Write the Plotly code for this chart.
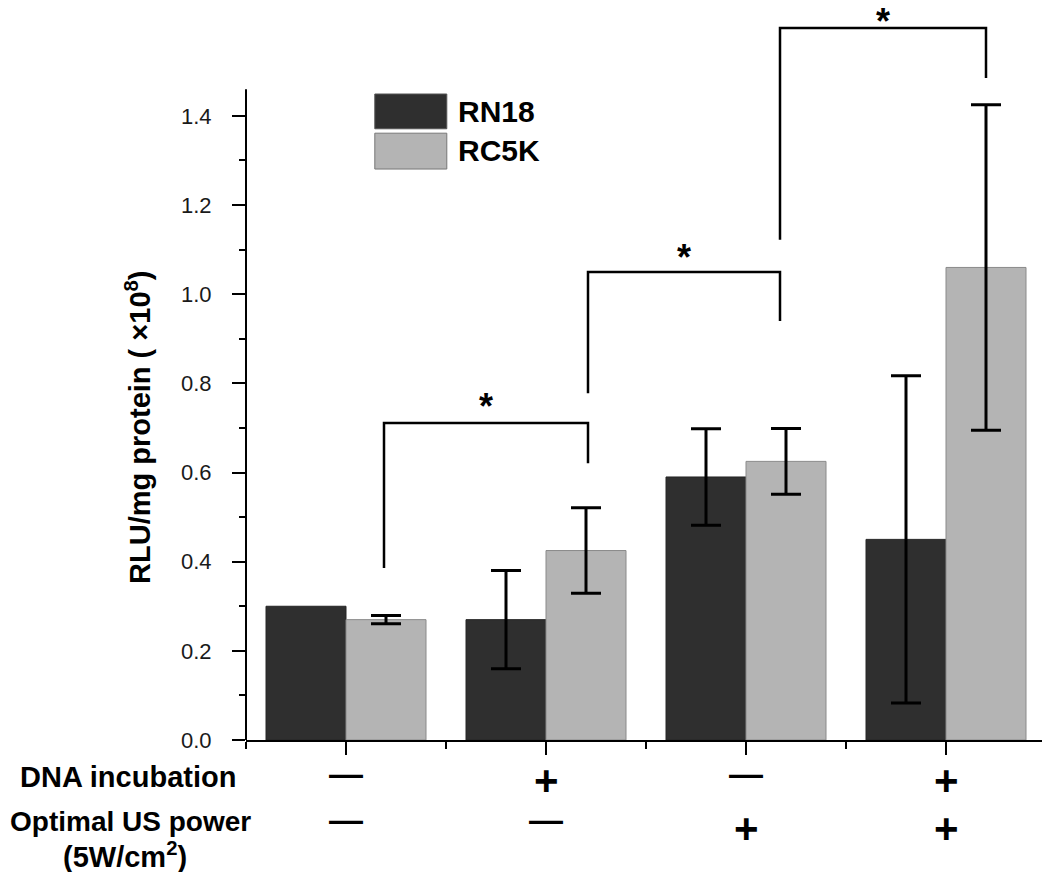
import plotly.graph_objects as go

groups = [0, 1, 2, 3]
rn18 = [0.30, 0.27, 0.59, 0.45]
rn18_err = [0.0, 0.11, 0.108, 0.367]
rc5k = [0.27, 0.425, 0.625, 1.06]
rc5k_err = [0.009, 0.096, 0.074, 0.365]

dna_signs = ["—", "+", "—", "+"]
us_signs = ["—", "—", "+", "+"]

# significance brackets: x left, x right, top, left foot, right foot, star y
brackets = [
    (0.19, 1.21, 0.711, 0.386, 0.621, 0.747),
    (1.21, 2.17, 1.050, 0.778, 0.940, 1.082),
    (2.17, 3.20, 1.597, 1.122, 1.485, 1.611),
]

FONT = "Liberation Sans, Arial, sans-serif"
DARK = "#2f2f2f"
LIGHT = "#b4b4b4"

fig = go.Figure()
# RN18: first group has no error bar, so split into two traces sharing one offset group
with_err = [i for i, e in enumerate(rn18_err) if e > 0]
no_err = [i for i, e in enumerate(rn18_err) if e == 0]
fig.add_trace(go.Bar(
    x=[groups[i] for i in no_err], y=[rn18[i] for i in no_err], name="RN18",
    offsetgroup="rn18",
    marker=dict(color=DARK, line=dict(color="#262626", width=1)),
))
fig.add_trace(go.Bar(
    x=[groups[i] for i in with_err], y=[rn18[i] for i in with_err], name="RN18",
    offsetgroup="rn18",
    marker=dict(color=DARK, line=dict(color="#262626", width=1)),
    error_y=dict(type="data", array=[rn18_err[i] for i in with_err], visible=True,
                 color="black", thickness=3, width=15),
))
fig.add_trace(go.Bar(
    x=groups, y=rc5k, name="RC5K", offsetgroup="rc5k",
    marker=dict(color=LIGHT, line=dict(color="#8a8a8a", width=1)),
    error_y=dict(type="data", array=rc5k_err, visible=True,
                 color="black", thickness=3, width=15),
))

shapes = []
annotations = []

# y axis line (stops at ~1.46 like the original)
shapes.append(dict(type="line", xref="x domain", yref="y", x0=0, x1=0,
                   y0=0, y1=1.46, line=dict(color="black", width=2)))

for xl, xr, top, fl, fr, sy in brackets:
    shapes.append(dict(type="path", xref="x", yref="y",
                       path=f"M {xl},{fl} L {xl},{top} L {xr},{top} L {xr},{fr}",
                       line=dict(color="black", width=2.5)))
    annotations.append(dict(x=(xl + xr) / 2, y=sy, xref="x", yref="y",
                            text="<b>*</b>", showarrow=False, xanchor="center",
                            yanchor="middle",
                            font=dict(size=36, color="black", family=FONT)))

# legend drawn by hand (big swatches)
shapes.append(dict(type="rect", xref="x domain", yref="y domain",
                   x0=0.161, x1=0.251, y0=0.835, y1=0.8825,
                   fillcolor=DARK, line=dict(color="#555555", width=1)))
shapes.append(dict(type="rect", xref="x domain", yref="y domain",
                   x0=0.161, x1=0.251, y0=0.780, y1=0.829,
                   fillcolor=LIGHT, line=dict(color="#777777", width=1)))
annotations.append(dict(x=0.262, y=0.859, xref="x domain", yref="y domain",
                        text="<b>RN18</b>", showarrow=False, xanchor="left",
                        yanchor="middle",
                        font=dict(size=30, color="black", family=FONT)))
annotations.append(dict(x=0.262, y=0.805, xref="x domain", yref="y domain",
                        text="<b>RC5K</b>", showarrow=False, xanchor="left",
                        yanchor="middle",
                        font=dict(size=30, color="black", family=FONT)))

# y axis title
annotations.append(dict(x=0, y=0.70, xref="paper", yref="y", xshift=-108,
                        text="<b>RLU/mg protein ( ×10<sup>8</sup>)</b>",
                        textangle=-90, showarrow=False, xanchor="center",
                        font=dict(size=29, color="black", family=FONT)))

# condition rows under the axis
row_labels = [("<b>DNA incubation</b>", -118, -37, 29),
              ("<b>Optimal US power</b>", -116, -81, 28),
              ("<b>(5W/cm<sup>2</sup>)</b>", -121, -115, 29)]
for txt, xs, ys, size in row_labels:
    annotations.append(dict(x=0, y=0, xref="paper", yref="paper", xshift=xs,
                            yshift=ys, text=txt, showarrow=False,
                            xanchor="center", yanchor="middle",
                            font=dict(size=size, color="black", family=FONT)))

for g, s1, s2 in zip(groups, dna_signs, us_signs):
    for s, row in ((s1, 0), (s2, 1)):
        if s == "+":
            ys, size = (-40, -88)[row], 42
        else:
            ys, size = (-33, -79)[row], 34
        annotations.append(dict(x=g, y=0, xref="x", yref="paper", yshift=ys,
                                text=f"<b>{s}</b>", showarrow=False,
                                xanchor="center", yanchor="middle",
                                font=dict(size=size, color="black", family=FONT)))

fig.update_layout(
    width=1042, height=864,
    margin=dict(l=238, r=4, t=0, b=132),
    plot_bgcolor="white", paper_bgcolor="white",
    barmode="group", bargap=0.2, bargroupgap=0,
    showlegend=False,
    shapes=shapes, annotations=annotations,
    font=dict(family=FONT, color="#1a1a1a"),
    xaxis=dict(range=[-0.5, 3.5], showline=True, linecolor="black", linewidth=2,
               ticks="outside", ticklen=13, tickwidth=2, tickcolor="black",
               tickvals=groups, showticklabels=False, showgrid=False, zeroline=False,
               minor=dict(tickvals=[-0.5, 0.5, 1.5, 2.5, 3.5], ticks="outside",
                          ticklen=7, tickwidth=2, tickcolor="black")),
    yaxis=dict(range=[0, 1.642], showline=False, showgrid=False, zeroline=False,
               ticks="outside", ticklen=13, tickwidth=2, tickcolor="black",
               tickvals=[0, 0.2, 0.4, 0.6, 0.8, 1.0, 1.2, 1.4],
               ticktext=["0.0", "0.2", "0.4", "0.6", "0.8", "1.0", "1.2", "1.4"],
               tickfont=dict(size=22, color="#1a1a1a", family=FONT),
               ticklabelstandoff=16,
               minor=dict(tickvals=[0.1, 0.3, 0.5, 0.7, 0.9, 1.1, 1.3],
                          ticks="outside", ticklen=6, tickwidth=2, tickcolor="black")),
)

fig.write_html("out.html")
